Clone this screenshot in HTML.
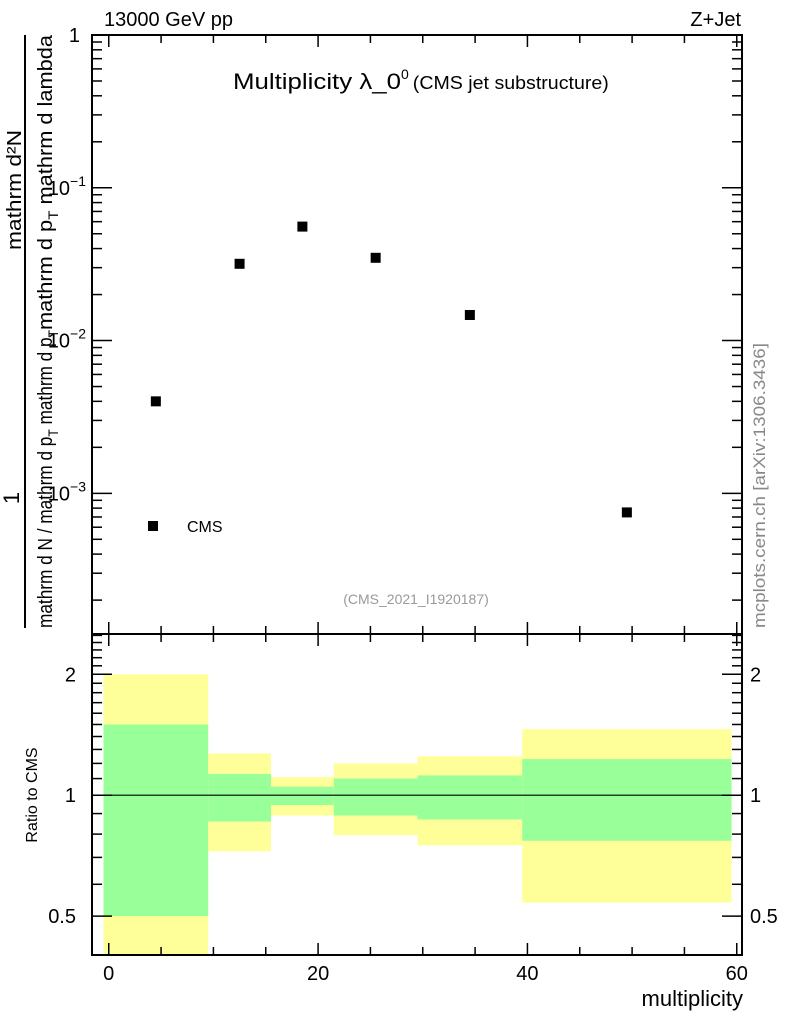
<!DOCTYPE html>
<html><head><meta charset="utf-8"><style>
html,body{margin:0;padding:0;background:#fff;}
svg{display:block;font-family:"Liberation Sans",Arial,sans-serif;}
</style></head><body>
<svg id="chart" width="786" height="1024" viewBox="0 0 786 1024" xmlns="http://www.w3.org/2000/svg">
<text x="104" y="26" font-size="20">13000 GeV pp</text>
<text x="741" y="26" font-size="20" text-anchor="end">Z+Jet</text>
<text x="233" y="89" font-size="22"><tspan textLength="168" lengthAdjust="spacingAndGlyphs">Multiplicity λ_0</tspan><tspan dy="-10" font-size="14">0</tspan><tspan dy="10" font-size="18" dx="4" textLength="196" lengthAdjust="spacingAndGlyphs">(CMS jet substructure)</tspan></text>
<text x="416" y="604" font-size="14" fill="#999" text-anchor="middle">(CMS_2021_I1920187)</text>
<text transform="translate(765,628) rotate(-90)" font-size="17" fill="#888" textLength="285" lengthAdjust="spacingAndGlyphs">mcplots.cern.ch [arXiv:1306.3436]</text>
<g>
<text transform="translate(21,250) rotate(-90)" font-size="20" textLength="120" lengthAdjust="spacingAndGlyphs">mathrm d²N</text>
<line x1="25" y1="35" x2="25" y2="628" stroke="#000" stroke-width="2"/>
<text transform="translate(19,498) rotate(-90)" font-size="22" text-anchor="middle">1</text>
<text transform="translate(52,628) rotate(-90)" font-size="20" textLength="298" lengthAdjust="spacingAndGlyphs">mathrm d N / mathrm d p<tspan dy="6" font-size="14">T</tspan><tspan dy="-6"> mathrm d p</tspan><tspan dy="6" font-size="14">T</tspan></text>
<text transform="translate(52,330) rotate(-90)" font-size="20" textLength="295" lengthAdjust="spacingAndGlyphs">mathrm d p<tspan dy="6" font-size="14">T</tspan><tspan dy="-6"> mathrm d lambda</tspan></text>
</g>
<text transform="translate(37,795) rotate(-90)" font-size="16" text-anchor="middle">Ratio to CMS</text>
<text x="743" y="1006" font-size="22" text-anchor="end">multiplicity</text>
<g id="bands"></g><g id="marks"></g><g id="axes"></g>
<g>
<rect x="148" y="521" width="10" height="10" fill="#000"/>
<text x="187" y="532" font-size="16">CMS</text>
</g>
</svg>
<script>
const xVals=[4.5,12.5,18.5,25.5,34.5,49.5];
const yVals=[0.0040,0.0318,0.0557,0.0348,0.0147,0.00075];
const binEdges=[-0.5,9.5,15.5,21.5,29.5,39.5,59.5];
const greenHi=[1.50,1.13,1.05,1.10,1.12,1.23];
const greenLo=[0.50,0.86,0.945,0.89,0.87,0.77];
const yellowHi=[2.0,1.27,1.11,1.20,1.25,1.46];
const yellowLo=[0.38,0.725,0.89,0.795,0.75,0.54];
const xTickLabels=["0","20","40","60"];
const yDecadeLabels=["10","10","10","1"];
const ratioTickLabels=["0.5","1","2"];

const NS="http://www.w3.org/2000/svg";
const L=92,R=742,T=35,M=634,B=955;
const XMIN=-1.6,XMAX=60.5;
const YLMIN=Math.log10(1.2e-4),YLMAX=0;
const RLMIN=Math.log2(0.40),RLMAX=Math.log2(2.52);
const xs=v=>L+(v-XMIN)/(XMAX-XMIN)*(R-L);
const ys=v=>M-(Math.log10(v)-YLMIN)/(YLMAX-YLMIN)*(M-T);
const rs=v=>B-(Math.log2(v)-RLMIN)/(RLMAX-RLMIN)*(B-M);
function mk(tag,attrs,parent){const e=document.createElementNS(NS,tag);for(const k in attrs)e.setAttribute(k,attrs[k]);parent.appendChild(e);return e;}
const bands=document.getElementById('bands'),marks=document.getElementById('marks'),axes=document.getElementById('axes');
const clampR=v=>Math.min(Math.max(rs(v),M),B);
for(let i=0;i<binEdges.length-1;i++){
 const x0=xs(binEdges[i]),x1=xs(binEdges[i+1]);
 const y1=clampR(yellowHi[i]),y2=clampR(yellowLo[i]);
 const yb=mk('rect',{x:x0,y:y1,width:x1-x0,height:y2-y1,fill:'#ffff99'},bands);
 
 
 const g1=clampR(greenHi[i]),g2=clampR(greenLo[i]);
 const gb=mk('rect',{x:x0,y:g1,width:x1-x0,height:g2-g1,fill:'#99ff99'},bands);
 
 
}
const one=mk('line',{x1:L,x2:R,y1:rs(1),y2:rs(1),stroke:'#000','stroke-width':1.2},bands);


for(let i=0;i<xVals.length;i++){
 const p=mk('rect',{x:xs(xVals[i])-5,y:ys(yVals[i])-5,width:10,height:10,fill:'#000'},marks);
 
 
}
for(const [y0,y1] of [[T,M],[M,B]]){
 const f=mk('rect',{x:L,y:y0,width:R-L,height:y1-y0,fill:'none',stroke:'#000','stroke-width':2},axes);
 
 
}
const line=(a,b,c,d,w)=>mk('line',{x1:a,y1:b,x2:c,y2:d,stroke:'#000','stroke-width':w||1.5},axes);
for(let v=0;v<=60;v+=5){
 const x=xs(v),big=v%20===0,len=big?12:8;
 line(x,T,x,T+len);
 line(x,M-len,x,M+len);
 line(x,B,x,B-len);
}
xTickLabels.forEach((lab,i)=>{const t=mk('text',{x:xs(i*20),y:980,'font-size':20,'text-anchor':'middle'},axes);t.textContent=lab;
 
 });
for(let d=-4;d<=0;d++){
 for(let m=1;m<10;m++){
  const v=m*Math.pow(10,d);if(v<1.2e-4||v>1)continue;
  const y=ys(v),len=m===1?20:10;line(L,y,L+len,y);line(R,y,R-len,y);
 }
}
[-3,-2,-1,0].forEach((d,i)=>{
 const y=ys(Math.pow(10,d));
 const t=mk('text',{x:d===0?80:86,y:y+7,'font-size':20,'text-anchor':'end'},axes);
 t.textContent=yDecadeLabels[i];
 if(d<0){const s=mk('tspan',{dy:-9,'font-size':14},t);s.textContent="−"+(-d);}
 
 
});
const rt=[0.5,0.6,0.7,0.8,0.9,1,1.1,1.2,1.3,1.4,1.5,1.6,1.7,1.8,1.9,2,2.1,2.2,2.3,2.4,2.5];
rt.forEach(v=>{const y=rs(v),big=(v===0.5||v===1||v===2),len=big?20:10;line(L,y,L+len,y);line(R,y,R-len,y);});
[0.5,1,2].forEach((v,i)=>{
 const t1=mk('text',{x:76,y:rs(v)+7,'font-size':20,'text-anchor':'end'},axes);t1.textContent=ratioTickLabels[i];
 
 
 const t2=mk('text',{x:750,y:rs(v)+7,'font-size':20},axes);t2.textContent=ratioTickLabels[i];
 
 
});
</script>
</body></html>
